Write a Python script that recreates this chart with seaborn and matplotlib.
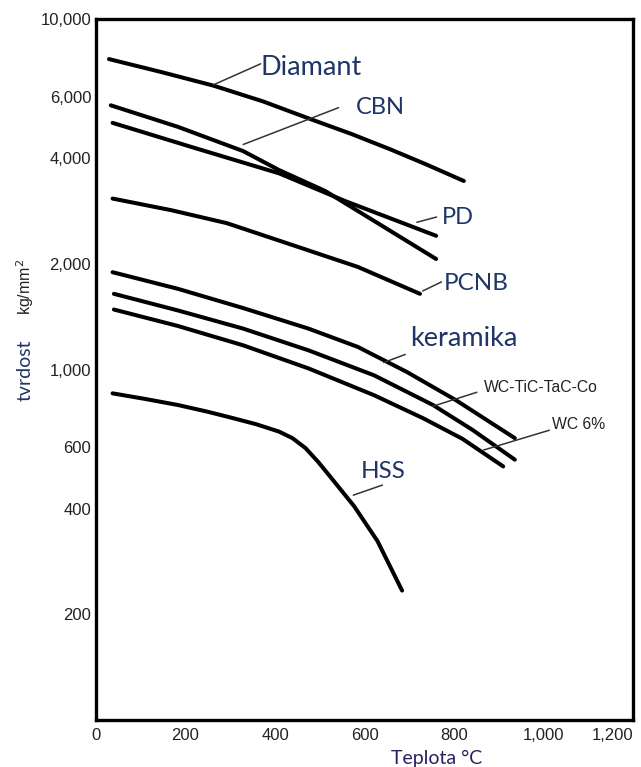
import numpy as np
import pandas as pd
import matplotlib
matplotlib.use("Agg")
import matplotlib.pyplot as plt
import seaborn as sns
from matplotlib.ticker import FixedLocator, FuncFormatter, NullLocator

# values (teplota in °C, tvrdost in kg/mm2)
diamant_t = [29, 146, 263, 373, 482, 570, 658, 738, 822]
diamant_h = [7685, 7057, 6452, 5821, 5166, 4703, 4246, 3847, 3450]

cbn_t = [33, 183, 329, 409, 512, 621, 760]
cbn_h = [5672, 4924, 4198, 3707, 3232, 2656, 2067]

pd_t = [37, 219, 409, 556, 760]
pd_h = [5055, 4292, 3628, 3027, 2407]

pcnb_t = [37, 168, 292, 439, 585, 724]
pcnb_h = [3074, 2848, 2616, 2265, 1962, 1644]

keramika_t = [37, 183, 329, 475, 585, 694, 804, 936]
keramika_h = [1895, 1699, 1497, 1308, 1160, 985, 818, 637]

wctic_t = [40, 183, 329, 475, 621, 753, 841, 936]
wctic_h = [1644, 1474, 1308, 1134, 963, 792, 673, 553]

wc6_t = [40, 183, 329, 475, 621, 731, 819, 910]
wc6_h = [1483, 1331, 1172, 1007, 845, 726, 634, 529]

hss_t = [37, 110, 183, 249, 307, 358, 409, 439, 468, 497, 526, 577, 629, 684]
hss_h = [855, 824, 792, 758, 726, 698, 665, 637, 597, 544, 490, 407, 324, 234]

curves = {
    "Diamant": (diamant_t, diamant_h),
    "CBN": (cbn_t, cbn_h),
    "PD": (pd_t, pd_h),
    "PCNB": (pcnb_t, pcnb_h),
    "keramika": (keramika_t, keramika_h),
    "WC-TiC-TaC-Co": (wctic_t, wctic_h),
    "WC 6%": (wc6_t, wc6_h),
    "HSS": (hss_t, hss_h),
}

# label text position and pointer line (label end -> curve)
labels = ["Diamant", "CBN", "PD", "PCNB", "keramika", "WC-TiC-TaC-Co", "WC 6%", "HSS"]
label_size = [19.5, 17, 17, 17.5, 19.5, 11.3, 11.3, 17.5]
label_x = [368, 581, 772, 778, 702, 866, 1020, 592]
label_y = [7250, 5590, 2715, 1755, 1225, 888, 697, 513]
ptr_x0 = [368, 542, 761, 772, 691, 851, 1013, 640]
ptr_y0 = [7450, 5585, 2723, 1778, 1104, 861, 671, 468]
ptr_x1 = [263, 329, 717, 730, 643, 752, 866, 575]
ptr_y1 = [6494, 4385, 2630, 1675, 1047, 785, 589, 438]

y_ticks = [200, 400, 600, 1000, 2000, 4000, 6000, 10000]
x_ticks = [0, 200, 400, 600, 800, 1000, 1200]

sns.set_style("white")

navy = "#1f3566"

fig = plt.figure(figsize=(6.41, 7.67), dpi=100)
ax = fig.add_axes([96 / 641, 1 - 720 / 767, (633 - 96) / 641, 701 / 767])

for name, (t, h) in curves.items():
    sns.lineplot(x=t, y=h, ax=ax, color="black", lw=2.9, sort=False,
                 estimator=None, solid_capstyle="round")

for i, name in enumerate(labels):
    ax.plot([ptr_x0[i], ptr_x1[i]], [ptr_y0[i], ptr_y1[i]], color="#333333", lw=1.1)
    if name.startswith("WC"):
        ax.text(label_x[i], label_y[i], name, fontsize=label_size[i],
                family="Liberation Sans", color="#222222", ha="left", va="center")
    else:
        ax.text(label_x[i], label_y[i], name, fontsize=label_size[i], family="Lato",
                color=navy, ha="left", va="center")

ax.set_yscale("log")
ax.set_ylim(100, 10000)
ax.set_xlim(0, 1200)
ax.yaxis.set_major_locator(FixedLocator(y_ticks))
ax.yaxis.set_minor_locator(NullLocator())
ax.yaxis.set_major_formatter(FuncFormatter(lambda v, p: f"{int(v):,}"))
ax.xaxis.set_major_locator(FixedLocator(x_ticks))
ax.xaxis.set_major_formatter(FuncFormatter(lambda v, p: f"{int(v):,}"))

ax.tick_params(axis="both", direction="in", length=8, width=1.6, colors="black",
               labelsize=12, labelcolor="#222222")
ax.tick_params(axis="x", pad=6)
for lab in ax.get_xticklabels() + ax.get_yticklabels():
    lab.set_family("Liberation Sans")
ax.get_xticklabels()[-1].set_horizontalalignment("right")

for side in ["left", "bottom", "top", "right"]:
    ax.spines[side].set_visible(True)
    ax.spines[side].set_color("black")
    ax.spines[side].set_linewidth(2.4)

ax.set_xlabel("")
ax.set_ylabel("")

fig.text(25 / 641, 1 - 370 / 767, "tvrdost", rotation=90, fontsize=14, family="Lato",
         color=navy, ha="center", va="center")
fig.text(25 / 641, 1 - 287 / 767, "kg/mm$^2$", rotation=90, fontsize=11.5,
         family="Liberation Sans", color="#222222", ha="center", va="center")
fig.text(437 / 641, 1 - 758 / 767, "Teplota °C", fontsize=14, family="Lato",
         color="#2a2060", ha="center", va="center")

fig.savefig("out.png", dpi=100)
